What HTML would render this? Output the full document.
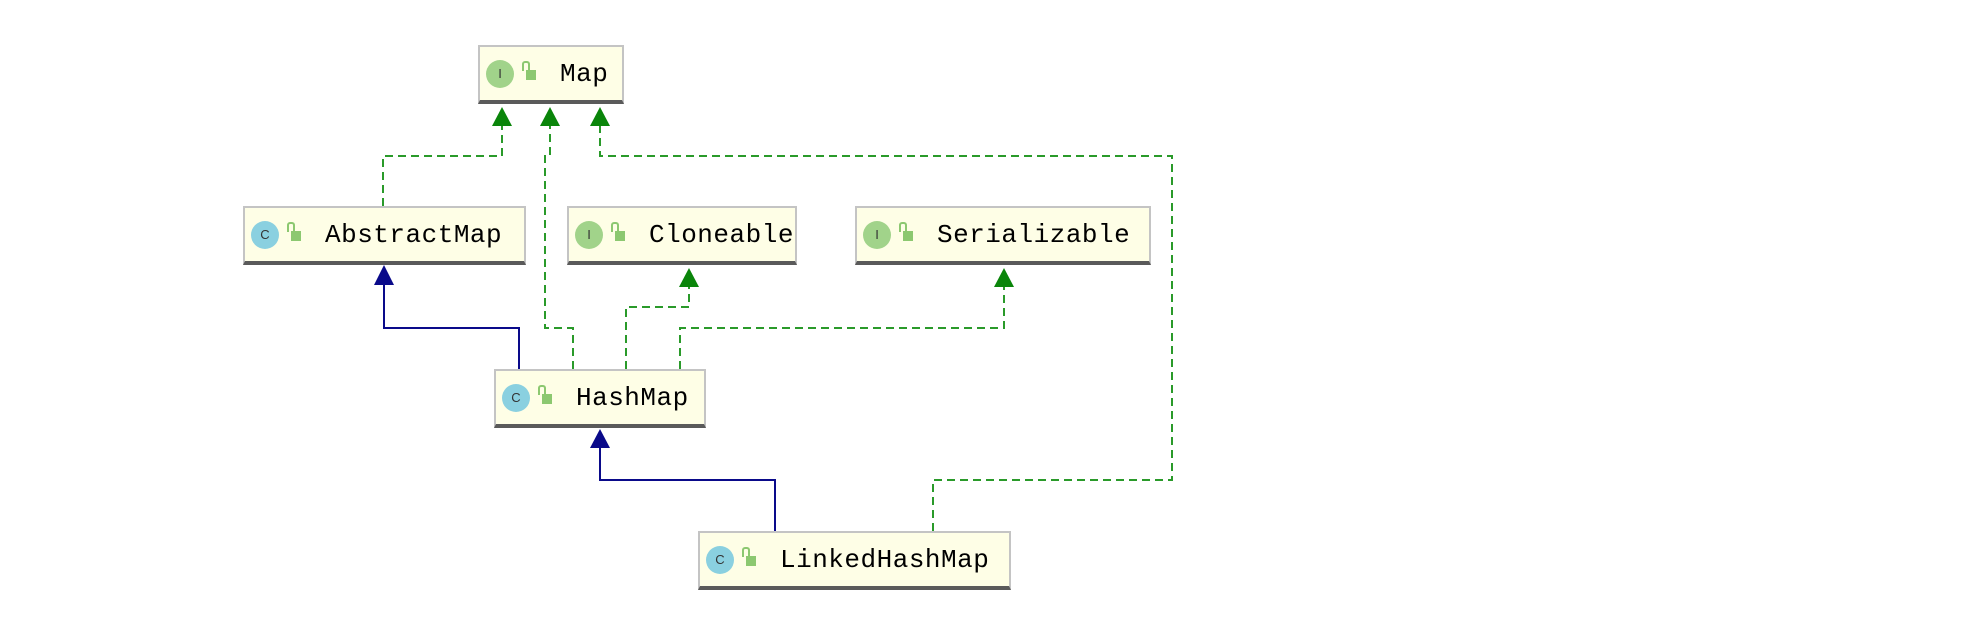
<!DOCTYPE html>
<html><head><style>
body{margin:0;width:1972px;height:630px;background:#fff;position:relative;overflow:hidden}
.b{position:absolute;box-sizing:border-box;background:#fefee6;border:2px solid #c4c4c4;border-bottom:4px solid #5a5a5a;height:59px}
.b span{position:absolute;top:12px;font-family:"Liberation Mono",monospace;font-size:26px;letter-spacing:0.5px;color:#000}
.i{position:absolute;top:13px;width:28px;height:28px;border-radius:50%;font:13px "Liberation Sans",sans-serif;color:#333;text-align:center;line-height:28px}
.ii{background:#a1d38a}.cc{background:#8ad0e0}
.l{position:absolute;top:23px;width:10px;height:10px;background:#8cc870}
.l:before{content:"";position:absolute;left:-4px;top:-9px;width:4px;height:8px;border:2px solid #8cc870;border-bottom:none;border-radius:3px 3px 0 0}
svg{position:absolute;left:0;top:0}
</style></head><body>
<svg width="1972" height="630">
<g fill="none" stroke="#2a9a2a" stroke-width="2" stroke-dasharray="8,5">
<polyline points="383,206 383,156 502,156 502,124"/>
<polyline points="573,369 573,328 545,328 545,156 550,156 550,124"/>
<polyline points="933,531 933,480 1172,480 1172,156 600,156 600,124"/>
<polyline points="626,369 626,307 689,307 689,285"/>
<polyline points="680,369 680,328 1004,328 1004,285"/>
</g>
<g fill="none" stroke="#0a0a8a" stroke-width="2">
<polyline points="519,369 519,328 384,328 384,283"/>
<polyline points="775,531 775,480 600,480 600,446"/>
</g>
<g fill="#0a850a">
<polygon points="502,107 492,126 512,126"/>
<polygon points="550,107 540,126 560,126"/>
<polygon points="600,107 590,126 610,126"/>
<polygon points="689,268 679,287 699,287"/>
<polygon points="1004,268 994,287 1014,287"/>
</g>
<g fill="#0a0a8a">
<polygon points="384,265 374,285 394,285"/>
<polygon points="600,429 590,448 610,448"/>
</g>
</svg>
<div class="b" style="left:478px;top:45px;width:146px"><div class="i ii" style="left:6px">I</div><div class="l" style="left:46px"></div><span style="left:80px">Map</span></div>
<div class="b" style="left:243px;top:206px;width:283px"><div class="i cc" style="left:6px">C</div><div class="l" style="left:46px"></div><span style="left:80px">AbstractMap</span></div>
<div class="b" style="left:567px;top:206px;width:230px"><div class="i ii" style="left:6px">I</div><div class="l" style="left:46px"></div><span style="left:80px">Cloneable</span></div>
<div class="b" style="left:855px;top:206px;width:296px"><div class="i ii" style="left:6px">I</div><div class="l" style="left:46px"></div><span style="left:80px">Serializable</span></div>
<div class="b" style="left:494px;top:369px;width:212px"><div class="i cc" style="left:6px">C</div><div class="l" style="left:46px"></div><span style="left:80px">HashMap</span></div>
<div class="b" style="left:698px;top:531px;width:313px"><div class="i cc" style="left:6px">C</div><div class="l" style="left:46px"></div><span style="left:80px">LinkedHashMap</span></div>
</body></html>
